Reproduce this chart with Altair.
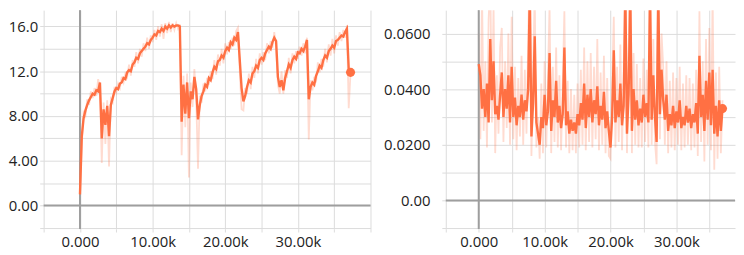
import altair as alt
import pandas as pd

# ---------------- data ----------------
STEP_K = 0.25  # sampling interval (thousands of steps)

# Left panel: smoothed and raw values, step 0 .. 37.25k
left_smooth = [
    1.0, 6.2, 7.8, 8.5, 9.0, 9.4, 9.7, 10.0, 9.9, 10.3,
    10.2, 11.0, 6.0, 8.6, 7.2, 8.9, 6.2, 9.0, 9.6, 10.2,
    10.5, 10.4, 10.9, 11.0, 11.4, 11.3, 11.9, 12.1, 12.0, 12.6,
    12.8, 13.2, 13.1, 13.6, 13.8, 14.0, 14.2, 14.5, 14.4, 14.8,
    15.0, 15.3, 15.2, 15.6, 15.5, 15.8, 15.6, 16.0, 15.8, 16.1,
    15.9, 16.1, 16.0, 16.1, 16.1, 16.0, 7.5, 10.8, 8.2, 11.0,
    7.8, 10.2, 9.5, 11.5, 10.4, 7.7, 9.0, 9.8, 10.2, 10.8,
    10.6, 11.4, 11.2, 11.9, 12.4, 12.2, 12.9, 13.0, 13.4, 13.2,
    13.8, 14.1, 13.9, 14.6, 14.4, 15.0, 14.8, 15.5, 13.0, 10.5,
    9.3, 9.8, 10.6, 11.2, 11.0, 11.8, 12.0, 12.5, 12.3, 13.0,
    13.2, 13.0, 13.6, 13.9, 14.2, 14.0, 14.6, 15.0, 14.7, 11.5,
    10.6, 11.2, 10.3, 11.4, 12.0, 12.6, 12.3, 13.0, 13.3, 13.1,
    13.7, 13.6, 14.0, 13.8, 14.2, 14.8, 9.5, 10.6, 11.0, 10.8,
    11.6, 12.0, 12.5, 12.3, 13.0, 13.4, 13.2, 13.8, 14.0, 14.3,
    14.1, 14.7, 14.8, 15.0, 15.2, 15.1, 15.5, 15.8, 12.2, 11.9,
]
left_raw = [
    0.8, 5.5, 8.3, 8.0, 9.5, 9.0, 10.2, 9.6, 10.5, 9.8,
    11.3, 10.6, 3.8, 9.2, 5.5, 9.4, 3.5, 9.5, 9.2, 10.6,
    10.1, 10.9, 10.5, 11.5, 11.0, 11.8, 11.5, 12.6, 11.6, 13.0,
    12.4, 13.7, 12.7, 14.0, 13.3, 14.5, 13.8, 15.0, 14.0, 15.2,
    14.6, 15.7, 14.8, 16.0, 15.1, 16.2, 14.9, 16.3, 15.4, 16.4,
    15.5, 16.3, 15.7, 16.3, 15.8, 16.2, 4.5, 11.6, 7.0, 11.8,
    2.5, 11.0, 8.8, 12.2, 9.6, 3.3, 9.8, 9.2, 10.9, 10.2,
    11.4, 10.8, 12.0, 11.3, 13.0, 11.7, 13.5, 12.5, 14.0, 12.7,
    14.5, 13.5, 14.6, 14.0, 15.0, 14.3, 15.6, 15.9, 12.0, 8.6,
    8.5, 10.5, 10.0, 11.8, 10.4, 12.4, 11.4, 13.1, 11.8, 13.6,
    12.6, 13.7, 13.0, 14.5, 13.6, 14.7, 14.1, 15.5, 14.2, 10.8,
    10.0, 12.0, 10.0, 12.1, 11.4, 13.2, 11.8, 13.6, 12.7, 13.8,
    13.1, 14.2, 13.4, 14.5, 13.6, 15.0, 5.9, 11.2, 10.3, 11.5,
    11.0, 12.8, 11.9, 13.1, 12.4, 14.0, 12.8, 14.4, 13.4, 14.9,
    13.6, 15.2, 14.3, 15.5, 14.7, 15.7, 15.0, 16.1, 8.7, 11.9,
]

# Right panel: smoothed and raw values, step 0 .. 37.0k
right_smooth = [
    .049, .045, .033, .040, .030, .042, .028, .058, .036, .050,
    .031, .034, .029, .038, .046, .030, .040, .033, .045, .028,
    .048, .030, .037, .027, .034, .030, .038, .029, .036, .032,
    .040, .075, .023, .035, .059, .028, .024, .020, .030, .026,
    .038, .027, .032, .053, .025, .036, .030, .043, .028, .034,
    .026, .031, .055, .027, .032, .024, .029, .025, .028, .024,
    .031, .027, .035, .029, .042, .026, .038, .030, .040, .028,
    .036, .031, .041, .027, .034, .029, .039, .026, .032, .025,
    .019, .030, .054, .028, .036, .030, .042, .027, .034, .075,
    .024, .038, .075, .025, .040, .029, .036, .027, .033, .028,
    .038, .030, .035, .028, .075, .029, .045, .030, .021, .075,
    .031, .047, .036, .029, .038, .025, .031, .027, .034, .026,
    .032, .028, .036, .026, .030, .027, .034, .028, .033, .026,
    .031, .028, .035, .024, .052, .030, .038, .025, .043, .029,
    .046, .027, .047, .024, .034, .023, .036, .025, .033,
]
right_raw = [
    .060, .022, .075, .025, .050, .019, .065, .080, .028, .070,
    .017, .045, .024, .055, .062, .021, .050, .026, .060, .020,
    .066, .022, .048, .018, .044, .023, .052, .020, .047, .024,
    .056, .090, .016, .046, .075, .019, .030, .015, .042, .017,
    .050, .019, .044, .070, .017, .048, .021, .055, .019, .045,
    .018, .042, .068, .019, .043, .017, .040, .018, .038, .017,
    .042, .019, .047, .020, .055, .018, .050, .021, .053, .019,
    .048, .022, .058, .018, .046, .020, .052, .017, .044, .016,
    .015, .041, .066, .019, .048, .021, .056, .018, .046, .090,
    .017, .050, .090, .017, .053, .020, .049, .019, .044, .019,
    .051, .021, .047, .019, .090, .020, .058, .021, .013, .090,
    .022, .060, .048, .020, .050, .017, .043, .019, .046, .018,
    .044, .020, .048, .018, .042, .019, .045, .020, .044, .018,
    .042, .019, .047, .016, .068, .021, .050, .014, .058, .020,
    .062, .018, .075, .011, .046, .015, .048, .017, .036,
]

left_y_ticks = [-2, 0, 2, 4, 6, 8, 10, 12, 14, 16]
right_y_ticks = [-0.01, 0.0, 0.01, 0.02, 0.03, 0.04, 0.05, 0.06]
x_ticks = [-5000, 0, 5000, 10000, 15000, 20000, 25000, 30000, 35000, 40000]

# ---------------- styling ----------------
ORANGE = "#ff7043"
GRID = "#dcdcdc"
ZERO = "#9e9e9e"
FONT = "Open Sans"
FS = 15
LABEL = "#222222"


def panel(smooth, raw, xdom, ydom, yticks, ylabel_expr, w, h, ypad):
    steps = [i * STEP_K * 1000 for i in range(len(smooth))]
    df = pd.DataFrame({"step": steps, "smooth": smooth, "raw": raw})
    xs = alt.Scale(domain=xdom, nice=False, zero=False)
    ys = alt.Scale(domain=ydom, nice=False, zero=False)
    xaxis = alt.Axis(
        values=x_ticks, title=None, grid=True, gridColor=GRID, gridWidth=1,
        domain=False, ticks=True, tickColor=GRID, tickSize=3,
        labelExpr="datum.value % 10000 == 0 && datum.value >= 0 && datum.value <= 30000 ? format(datum.value, '.4s') : ''",
        labelFont=FONT, labelFontSize=FS, labelColor=LABEL, labelPadding=3,
        labelFlush=False, labelOverlap=False,
    )
    yaxis = alt.Axis(
        values=yticks, title=None, grid=True, gridColor=GRID, gridWidth=1,
        domain=False, ticks=True, tickColor=GRID, tickSize=4,
        labelExpr=ylabel_expr,
        labelFont=FONT, labelFontSize=FS, labelColor=LABEL, labelPadding=ypad,
        labelFlush=False, labelOverlap=False,
    )
    base = alt.Chart(df)
    raw_line = base.mark_line(color=ORANGE, opacity=0.25, strokeWidth=1.8, clip=True).encode(
        x=alt.X("step:Q", scale=xs, axis=xaxis, title=None),
        y=alt.Y("raw:Q", scale=ys, axis=yaxis, title=None),
    )
    zdf = pd.DataFrame({"zero": [0]})
    zero_v = alt.Chart(zdf).mark_rule(color=ZERO, strokeWidth=2).encode(
        x=alt.X("zero:Q", scale=xs, axis=xaxis, title=None))
    zero_h = alt.Chart(zdf).mark_rule(color=ZERO, strokeWidth=2).encode(
        y=alt.Y("zero:Q", scale=ys, axis=yaxis, title=None))
    sm_line = base.mark_line(color=ORANGE, strokeWidth=2.4, clip=True).encode(
        x=alt.X("step:Q", scale=xs, axis=xaxis, title=None),
        y=alt.Y("smooth:Q", scale=ys, axis=yaxis, title=None),
    )
    last = pd.DataFrame({"step": [steps[-1]], "smooth": [smooth[-1]]})
    dot = alt.Chart(last).mark_circle(color=ORANGE, size=85, opacity=1).encode(
        x=alt.X("step:Q", scale=xs, axis=xaxis, title=None),
        y=alt.Y("smooth:Q", scale=ys, axis=yaxis, title=None),
    )
    return alt.layer(raw_line, zero_v, zero_h, sm_line, dot).properties(width=w, height=h)


left = panel(
    left_smooth, left_raw, [-5000, 40000], [-2.1, 17.46], left_y_ticks,
    "datum.value == 0 ? '0.00' : (datum.value % 4 == 0 ? format(datum.value, '.3r') : '')",
    330, 221, 2,
)
right = panel(
    right_smooth, right_raw, [-5000, 38900], [-0.0103, 0.0684], right_y_ticks,
    "datum.value == 0 ? '0.00' : (datum.value > 0 && round(datum.value * 100) % 2 == 0 ? format(datum.value, '.3r') : '')",
    292, 221, 12,
)

chart = alt.hconcat(left, right, spacing=12).properties(
    padding={"left": 0, "top": 0, "right": 0, "bottom": 0}
).configure_view(stroke=None)

chart.save("out.html", embed_options={"renderer": "svg", "actions": False})
